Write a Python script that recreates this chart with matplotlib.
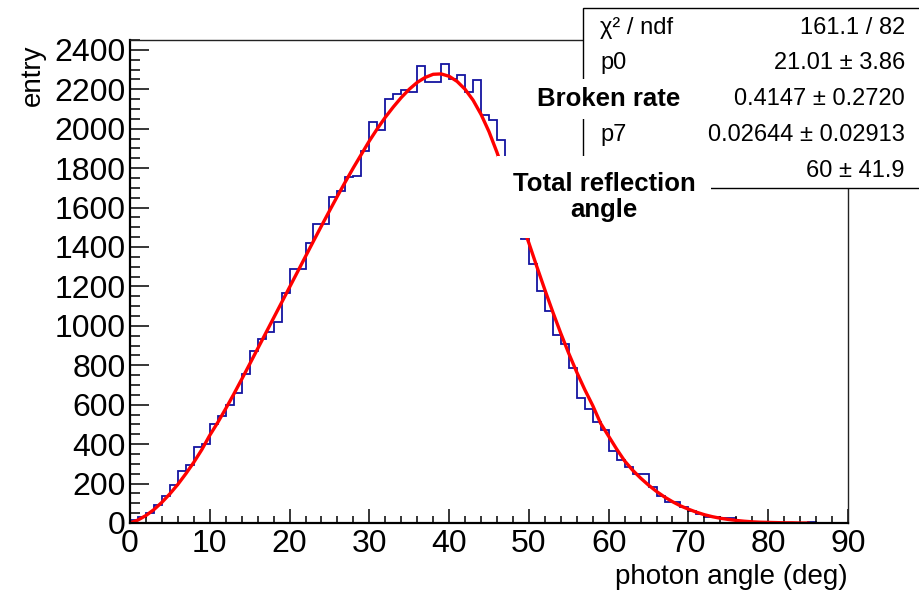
import matplotlib
matplotlib.use("Agg")
import matplotlib.pyplot as plt
from matplotlib.patches import Rectangle
from matplotlib.ticker import MultipleLocator
import numpy as np

plt.rcParams['font.family'] = ['Liberation Sans', 'DejaVu Sans']

# histogram: 90 bins of 1 deg, 0..90
bin_edges = list(range(0, 91))
counts = [15, 29, 50, 90, 138, 192, 262, 294, 383, 400,
          501, 545, 597, 657, 754, 871, 931, 969, 1019, 1165,
          1287, 1290, 1420, 1515, 1517, 1652, 1686, 1754, 1758, 1889,
          2034, 1991, 2150, 2176, 2196, 2187, 2320, 2235, 2238, 2329,
          2251, 2271, 2187, 2246, 2069, 2044, 1944, 1720, 1570, 1441,
          1315, 1176, 1075, 952, 906, 788, 636, 576, 513, 471,
          366, 322, 285, 251, 251, 184, 138, 105, 105, 83,
          62, 46, 32, 32, 27, 27, 10, 8, 6, 5,
          3, 2, 2, 1, 1, 4, 2, 1, 0, 1]

# fit curve read at each degree, 0..85
fit_x = list(range(0, 86))
fit_y = [0, 15, 38, 68, 105, 148, 196, 250, 308, 372,
         445, 510, 580, 653, 729, 806, 884, 962, 1040, 1118,
         1196, 1274, 1352, 1430, 1507, 1583, 1658, 1731, 1802, 1870,
         1938, 2000, 2058, 2110, 2158, 2200, 2235, 2260, 2276, 2278,
         2266, 2240, 2200, 2145, 2073, 1985, 1880, 1765, 1650, 1535,
         1420, 1300, 1183, 1070, 962, 860, 765, 677, 596, 505,
         440, 375, 315, 268, 228, 192, 160, 132, 108, 87,
         70, 55, 42, 32, 24, 18, 13, 9, 6, 4,
         3, 2, 1, 1, 0, 0]

stat_labels = ["χ² / ndf", "p0", "", "p7", ""]
stat_values = ["161.1 / 82", "21.01 ± 3.86", "0.4147 ± 0.2720",
               "0.02644 ± 0.02913", "60 ± 41.9"]

W, H = 919, 592
fig = plt.figure(figsize=(W / 100, H / 100), dpi=100)
ax = fig.add_axes([130 / W, 1 - 523 / H, (848 - 130) / W, (523 - 40) / H])

ax.stairs(counts, bin_edges, color='#1414a0', lw=1.3)
ax.plot(fit_x, fit_y, color='red', lw=2.4)

ax.set_xlim(0, 90)
ax.set_ylim(0, 2450)
ax.xaxis.set_major_locator(MultipleLocator(10))
ax.xaxis.set_minor_locator(MultipleLocator(2))
ax.yaxis.set_major_locator(MultipleLocator(200))
ax.yaxis.set_minor_locator(MultipleLocator(50))
ax.tick_params(axis='x', which='major', direction='in', length=10, width=1.1,
               labelsize=23, pad=4, top=False)
ax.tick_params(axis='x', which='minor', direction='in', length=5, width=1.1, top=False)
ax.tick_params(axis='y', which='major', direction='in', length=14, width=1.1,
               labelsize=23, pad=3, right=False)
ax.tick_params(axis='y', which='minor', direction='in', length=7, width=1.1, right=False)
for s in ['left', 'bottom']:
    ax.spines[s].set_linewidth(1.6)
for s in ['top', 'right']:
    ax.spines[s].set_linewidth(1.0)
    ax.spines[s].set_color('#222222')

fig.text(848 / W, 1 - 577 / H, "photon angle (deg)", ha='right', va='center', fontsize=20)
fig.text(33 / W, 1 - 44 / H, "entry", ha='center', va='top', rotation=90, fontsize=20)

# stats box
box = Rectangle((583 / W, 1 - 188 / H), 360 / W, 180 / H, transform=fig.transFigure,
                facecolor='white', edgecolor='black', lw=1.0, zorder=5)
fig.add_artist(box)
row_y = [28, 63, 99, 135, 171]
for lab, val, yy in zip(stat_labels, stat_values, row_y):
    if lab:
        fig.text(600 / W, 1 - yy / H, lab, ha='left', va='center', fontsize=17, zorder=6)
    fig.text(905 / W, 1 - yy / H, val, ha='right', va='center', fontsize=17, zorder=6)

fig.text(609 / W, 1 - 99 / H, "Broken rate", ha='center', va='center', fontsize=18.5,
         fontweight='bold', zorder=7,
         bbox=dict(facecolor='white', edgecolor='none', pad=6))
fig.text(604 / W, 1 - 197 / H, "Total reflection\nangle", ha='center', va='center',
         fontsize=18.5, fontweight='bold', zorder=7, linespacing=1.15,
         bbox=dict(facecolor='white', edgecolor='none', pad=11))

fig.savefig("out.png", dpi=100)
